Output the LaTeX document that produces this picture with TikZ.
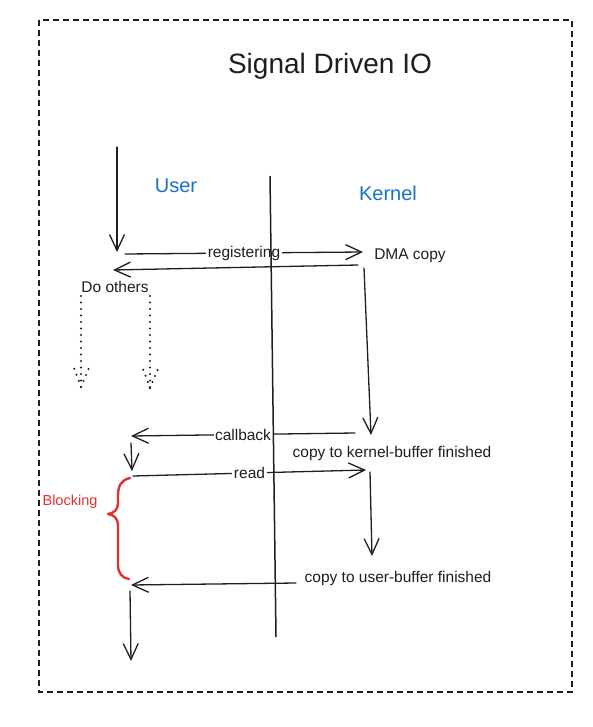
\documentclass[tikz,border=0pt]{standalone}
\usepackage{fontspec}
\setmainfont{Liberation Sans}
\usetikzlibrary{arrows.meta}
\definecolor{inkblack}{HTML}{1E1E1E}
\definecolor{laneblue}{HTML}{1971C2}
\definecolor{blockred}{HTML}{E03131}
\begin{document}
\begin{tikzpicture}[x=1pt,y=-1pt,
  every node/.style={text=inkblack, inner sep=1.5pt},
  flow/.style={draw=inkblack, line width=1.3pt, line cap=round,
    -{Straight Barb[length=16pt,width=15pt,line width=1.3pt]}},
  msg/.style={fill=white, font=\fontsize{15.5}{18}\selectfont},
  note/.style={font=\fontsize{15.5}{18}\selectfont},
  lane/.style={text=laneblue, font=\fontsize{20}{24}\selectfont},
  dotline/.style={draw=inkblack, line width=2.3pt, line cap=round,
    dash pattern=on 0pt off 6.5pt}]
  % canvas and frame
  \useasboundingbox (0,0) rectangle (593,727);
  \draw[inkblack, line width=1.3pt, dash pattern=on 6pt off 4pt]
    (39,20) rectangle (572,692);

  % headings
  \node[font=\fontsize{28}{33}\selectfont] (title) at (330,66) {Signal Driven IO};
  \node[lane] (user) at (176,186) {User};
  \node[lane] (kernel) at (388,193) {Kernel};

  % anchor points of the message flows
  \coordinate (u0) at (117,147);
  \coordinate (u1) at (117,252);
  \coordinate (r0) at (125,254);
  \coordinate (r1) at (363,252);
  \coordinate (b0) at (358,265);
  \coordinate (b1) at (113,270);
  \coordinate (k0) at (364,268);
  \coordinate (k1) at (371,435);
  \coordinate (c0) at (355,433);
  \coordinate (c1) at (131,436);
  \coordinate (w0) at (131,443);
  \coordinate (w1) at (132,471);
  \coordinate (rd0) at (133,476);
  \coordinate (rd1) at (366,470);
  \coordinate (k2) at (370,472);
  \coordinate (k3) at (372,556);
  \coordinate (f0) at (296,583);
  \coordinate (f1) at (131,585);
  \coordinate (e0) at (130,591);
  \coordinate (e1) at (131,661);
  \coordinate (d0) at (81,296);
  \coordinate (d1) at (81,387);
  \coordinate (d2) at (150,296);
  \coordinate (d3) at (150,388);
  \coordinate (lt) at (270,176);
  \coordinate (lb) at (276,637);

  % user side
  \draw[flow] (u0) -- (u1);
  \draw[flow] (r0) -- node[msg] (reg) {registering} (r1);
  \node[note] (dma) at (410,256) {DMA copy};
  \draw[flow] (b0) -- (b1);
  \node[note] (others) at (115,287) {Do others};

  % dotted "do others" branches
  \draw[dotline] (d0) -- (d1);
  \draw[dotline] (d2) -- (d3);
  \draw[dotline] (d1) -- ++(-7,-19);
  \draw[dotline] (d1) -- ++(8,-19);
  \draw[dotline] (d3) -- ++(-7,-19);
  \draw[dotline] (d3) -- ++(8,-19);

  % kernel copy and callback
  \draw[flow] (k0) -- (k1);
  \draw[flow] (c0) -- node[msg] (cb) {callback} (c1);
  \node[note] (kbuf) at (392,453) {copy to kernel-buffer finished};
  \draw[flow] (w0) -- (w1);
  \draw[flow] (rd0) -- node[msg] (rd) {read} (rd1);
  \draw[flow] (k2) -- (k3);
  \draw[flow] (f0) -- (f1);
  \node[note] (ubuf) at (398,578) {copy to user-buffer finished};
  \draw[flow] (e0) -- (e1);

  % blocking span
  \draw[blockred, line width=2.4pt, line cap=round, line join=round]
    (130,478) .. controls (121,480) and (118,486) .. (118,496)
    -- (118,503) .. controls (118,510) and (114,513) .. (108,514)
    .. controls (114,515) and (118,518) .. (118,526)
    -- (118,565) .. controls (118,573) and (122,578) .. (129,579);
  \node[text=blockred, font=\fontsize{14.5}{17}\selectfont] (blk) at (70,502) {Blocking};

  % user/kernel boundary
  \draw[inkblack, line width=1.5pt] (lt) -- (lb);
\end{tikzpicture}
\end{document}
